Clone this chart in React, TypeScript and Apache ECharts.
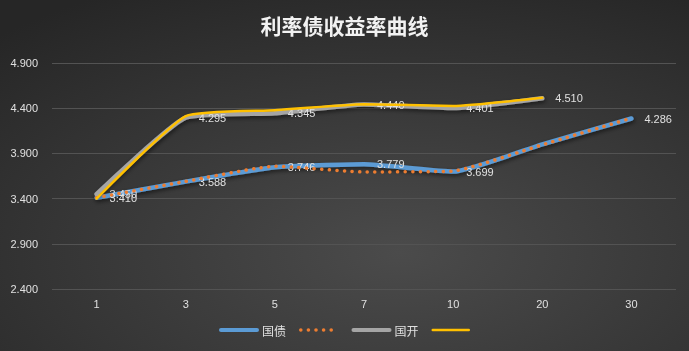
import React, { useEffect, useRef } from "react";
import * as echarts from "echarts";

const categories = ["1", "3", "5", "7", "10", "20", "30"];
const guozhai = [3.41, 3.588, 3.746, 3.779, 3.699, 4.0, 4.286];
const guozhaiLabelShown = [true, true, true, true, true, false, true];
const guozhaiPrev = [3.41, 3.59, 3.758, 3.695, 3.705, 3.995, 4.29];
const guokai = [3.45, 4.295, 4.345, 4.44, 4.401, 4.51, null];
const guokaiPrev = [3.4, 4.312, 4.378, 4.445, 4.425, 4.515, null];
const seriesNames = ["国债", "国债 ", "国开", "国开 "];
const yTicks = { min: 2.4, max: 4.9, interval: 0.5 };

const FONT = "'Liberation Sans', 'Noto Sans CJK SC', sans-serif";
const TXT = "#e0e0e0";
const COLORS = ["#5b9bd5", "#ed7d31", "#a5a5a5", "#ffc000"];

export default function App() {
  const ref = useRef<HTMLDivElement>(null);
  useEffect(() => {
    if (!ref.current) return;
    const chart = echarts.init(ref.current, undefined, { renderer: "svg" });
    const shadow = {
      shadowColor: "rgba(0,0,0,0.55)",
      shadowBlur: 4,
      shadowOffsetX: 1,
      shadowOffsetY: 2,
    };
    const label = {
      show: true,
      position: "right",
      distance: 13,
      color: TXT,
      fontSize: 11,
      fontFamily: FONT,
      formatter: (p: any) => Number(p.value).toFixed(3),
    };
    const dotted = { type: [0.1, 7.5], cap: "round" };
    const legendLines = [
      { width: 4, color: COLORS[0] },
      { width: 3.5, color: COLORS[1], ...dotted },
      { width: 4, color: COLORS[2] },
      { width: 2.5, color: COLORS[3] },
    ];
    chart.setOption({
      animation: false,
      backgroundColor: {
        type: "radial",
        x: 0.58,
        y: 0.72,
        r: 0.85,
        colorStops: [
          { offset: 0, color: "#4b4b4b" },
          { offset: 1, color: "#262626" },
        ],
      },
      title: {
        text: "利率债收益率曲线",
        left: "center",
        top: 9,
        textStyle: {
          color: "#f2f2f2",
          fontSize: 21,
          fontWeight: "bold",
          fontFamily: "'Noto Sans CJK SC', sans-serif",
        },
      },
      legend: {
        bottom: 10,
        left: "center",
        itemWidth: 36,
        itemHeight: 10,
        itemGap: 13,
        data: seriesNames.map((n, i) => ({
          name: n,
          itemStyle: { opacity: 0 },
          lineStyle: legendLines[i],
        })),
        formatter: (n: string) => (n.trim() === n ? n : ""),
        textStyle: {
          color: TXT,
          fontSize: 12,
          fontFamily: "'Noto Sans CJK SC', sans-serif",
        },
      },
      grid: { left: 52, right: 13, top: 63, bottom: 62 },
      xAxis: {
        type: "category",
        data: categories,
        boundaryGap: true,
        axisLine: { show: false },
        axisTick: { show: false },
        axisLabel: { color: TXT, fontSize: 11, fontFamily: FONT, margin: 9 },
      },
      yAxis: {
        type: "value",
        min: yTicks.min,
        max: yTicks.max,
        interval: yTicks.interval,
        axisLine: { show: false },
        axisTick: { show: false },
        splitLine: { lineStyle: { color: "#535353", width: 1 } },
        axisLabel: {
          color: TXT,
          fontSize: 11,
          fontFamily: FONT,
          margin: 14,
          formatter: (v: number) => v.toFixed(3),
        },
      },
      series: [
        {
          name: seriesNames[0],
          type: "line",
          data: guozhai.map((v, i) => ({
            value: v,
            label: { show: guozhaiLabelShown[i] },
          })),
          smooth: 0.15,
          symbol: "circle",
          symbolSize: 0,
          showSymbol: true,
          z: 2,
          lineStyle: { color: COLORS[0], width: 4.5, cap: "round", ...shadow },
          itemStyle: { color: COLORS[0] },
          label,
        },
        {
          name: seriesNames[1],
          type: "line",
          data: guozhaiPrev,
          smooth: 0.15,
          symbol: "none",
          z: 3,
          lineStyle: { color: COLORS[1], width: 3.5, ...dotted },
          itemStyle: { color: COLORS[1] },
        },
        {
          name: seriesNames[2],
          type: "line",
          data: guokai,
          smooth: 0.15,
          symbol: "circle",
          symbolSize: 0,
          showSymbol: true,
          z: 2,
          lineStyle: { color: COLORS[2], width: 4.5, cap: "round", ...shadow },
          itemStyle: { color: COLORS[2] },
          label,
        },
        {
          name: seriesNames[3],
          type: "line",
          data: guokaiPrev,
          smooth: 0.15,
          symbol: "none",
          z: 3,
          lineStyle: { color: COLORS[3], width: 2.5, cap: "round" },
          itemStyle: { color: COLORS[3] },
        },
      ],
    });
    return () => chart.dispose();
  }, []);
  return (
    <div
      ref={ref}
      style={{ position: "fixed", left: 0, top: 0, width: 689, height: 351 }}
    />
  );
}
